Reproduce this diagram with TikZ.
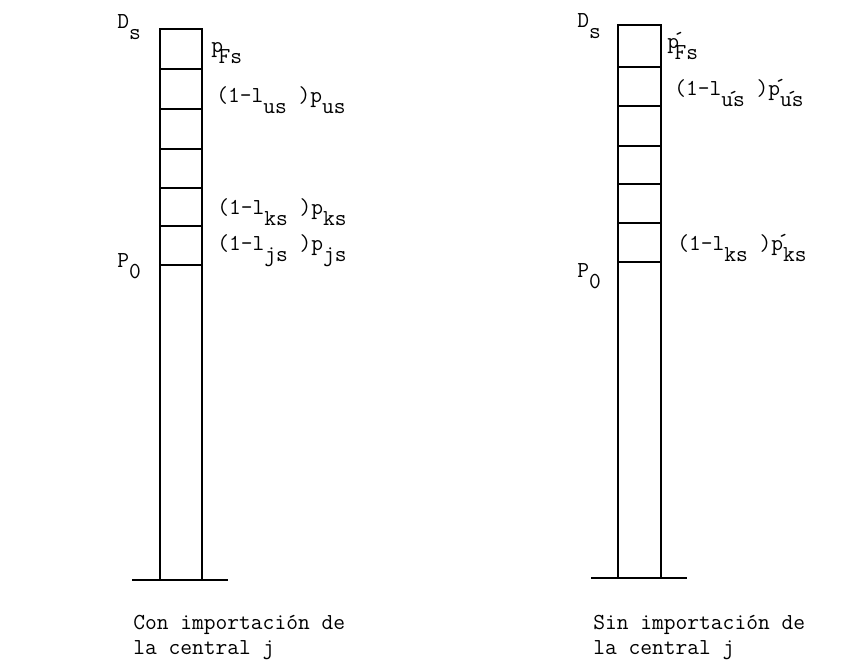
\documentclass[tikz,border=0pt]{standalone}
\usepackage{tikz}

% lowered index and zero-width accent, typewriter style
\newcommand\lo[1]{\raisebox{-0.5em}{#1}}
\newcommand\pr{\makebox[0pt]{\raisebox{0.05em}{\textasciiacute}}}

\begin{document}
\begin{tikzpicture}[x=0.02cm, y=-0.02cm,
  lbl/.style={font=\fontsize{13}{15.5}\selectfont\ttfamily, inner sep=0pt, anchor=base west},
  col/.style={line width=1pt}]
\useasboundingbox (0,0) rectangle (842,670);
% left column: with import of plant j
\draw[col] (160,580) -- (160,29) -- (202,29) -- (202,580);
\foreach \y in {69,109,149,188,226,265}
  \draw[col] (160,\y) -- (202,\y);
\draw[col] (132,580) -- (228,580);
\node[lbl] (dsL) at (117,28) {D\lo{s}};
\node[lbl] (p0L) at (117,267) {P\lo{0}};
\node[lbl] (pfsL) at (211,52) {p\kern-0.2em\lo{Fs}};
\node[lbl] (usL) at (216,102) {(1-l\lo{us} )p\lo{us}};
\node[lbl] (ksL) at (217,214) {(1-l\lo{ks} )p\lo{ks}};
\node[lbl] (jsL) at (217,250) {(1-l\lo{js} )p\lo{js}};
\node[lbl] (capL1) at (133,629) {Con importación de};
\node[lbl] (capL2) at (133,654) {la central j};
% right column: without import of plant j
\draw[col] (618,578) -- (618,25) -- (661,25) -- (661,578);
\foreach \y in {67,106,146,184,223,262}
  \draw[col] (618,\y) -- (661,\y);
\draw[col] (591,578) -- (687,578);
\node[lbl] (dsR) at (577,27) {D\lo{s}};
\node[lbl] (p0R) at (577,277) {P\lo{0}};
\node[lbl] (pfsR) at (667,48) {p\pr\kern-0.2em\lo{Fs}};
\node[lbl] (usR) at (674,95) {(1-l\lo{u\pr s} )p\pr\lo{u\pr s}};
\node[lbl] (ksR) at (677,250) {(1-l\lo{ks} )p\pr\lo{ks}};
\node[lbl] (capR1) at (593,629) {Sin importación de};
\node[lbl] (capR2) at (593,654) {la central j};
\end{tikzpicture}
\end{document}
